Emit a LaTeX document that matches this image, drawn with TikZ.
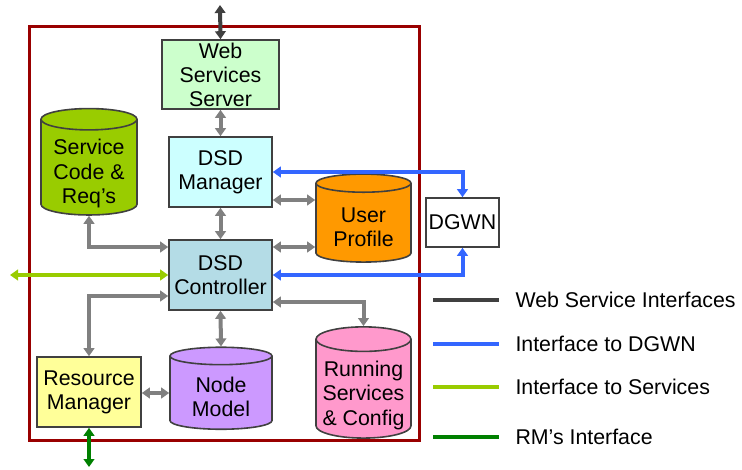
\documentclass[tikz,border=0pt]{standalone}
\usepackage{fontspec}
\setmainfont{Liberation Sans}
\usetikzlibrary{shapes.geometric,arrows.meta}
\definecolor{frameRed}{HTML}{990000}
\definecolor{wssGreen}{HTML}{CCFFCC}
\definecolor{mgrCyan}{HTML}{CCFFFF}
\definecolor{ctlBlue}{HTML}{B4DCE6}
\definecolor{codeGreen}{HTML}{99CC00}
\definecolor{profOrange}{HTML}{FF9900}
\definecolor{modelViolet}{HTML}{CC99FF}
\definecolor{runPink}{HTML}{FF99CC}
\definecolor{rmYellow}{HTML}{FFFF99}
\definecolor{linkGray}{HTML}{808080}
\definecolor{wsDark}{HTML}{404040}
\definecolor{dgwnBlue}{HTML}{3366FF}
\definecolor{svcLime}{HTML}{99CC00}
\definecolor{rmGreen}{HTML}{008000}

% text of a data store, set a little below the centre
\newcommand{\drumtext}[1]{\raisebox{-5pt}[\height][\depth]{\begin{tabular}{@{}c@{}}#1\end{tabular}}}

\tikzset{every picture/.style={line width=0.75pt}}
\tikzset{
  box/.style={draw=black!75, line width=1.2pt, align=center, inner sep=0pt,
    font=\fontsize{16}{18}\selectfont},
  drum/.style={box, cylinder, shape border rotate=90, aspect=0.3,
    font=\fontsize{16}{18.4}\selectfont},
  link/.style={line width=3pt, {Triangle[length=6pt,width=8pt]}-{Triangle[length=6pt,width=8pt]}},
  graylink/.style={link, draw=linkGray},
  wslink/.style={link, draw=wsDark},
  bluelink/.style={link, draw=dgwnBlue},
  limelink/.style={link, draw=svcLime},
  rmlink/.style={link, draw=rmGreen},
  legline/.style={line width=3pt},
  legtext/.style={anchor=west, inner sep=0pt, font=\fontsize{16}{18}\selectfont}
}

\begin{document}
\begin{tikzpicture}[x=0.75pt,y=0.75pt,yscale=-1,xscale=1]
\useasboundingbox (0,0) rectangle (742,469);

% outer frame
\draw [frameRed, line width=2.25pt] (29,26) rectangle (419,440);

% boxes
\node (wss) [box, fill=wssGreen, minimum width=87.75pt, minimum height=51.75pt] at (220.5,74.5) {Web\\Services\\Server};
\node (mgr) [box, fill=mgrCyan, minimum width=77.25pt, minimum height=52.5pt] at (220.5,172) {DSD\\Manager};
\node (ctl) [box, fill=ctlBlue, minimum width=77.25pt, minimum height=52.5pt] at (220.5,275) {DSD\\Controller};
\node (rm) [box, fill=rmYellow, minimum width=78pt, minimum height=52.5pt] at (89,392) {Resource\\Manager};
\node (dgwn) [box, fill=white, minimum width=54.75pt, minimum height=36.75pt] at (462.5,222.5) {DGWN};

% data stores
\node (code) [drum, fill=codeGreen, minimum width=72pt, minimum height=66.75pt] at (89,167.5) {\drumtext{Service\\Code \&\\Req’s}};
\node (prof) [drum, fill=profOrange, minimum width=71.25pt, minimum height=66pt] at (363.5,223) {\drumtext{User\\Profile}};
\node (model) [drum, fill=modelViolet, minimum width=76.5pt, minimum height=61.5pt] at (221,393) {\drumtext{Node\\Model}};
\node (run) [drum, fill=runPink, minimum width=71.25pt, minimum height=66pt] at (363.5,389) {\drumtext{Running\\Services\\\& Config}};

% free ends
\coordinate (wsEnd) at (220,5);
\coordinate (svcEnd) at (10,275);
\coordinate (rmEnd) at (89,467);

% web service interfaces
\draw [wslink] (wsEnd) -- (wss.north);
\draw [graylink] (wss.south) -- (mgr.north);
\draw [graylink] (mgr.south) -- (ctl.north);
\draw [graylink] (mgr.east |- 0,200) -- (prof.west |- 0,200);
\draw [graylink] (ctl.east |- 0,247) -- (prof.west |- 0,247);
\draw [graylink] (code.south) |- (ctl.west |- 0,247);
\draw [graylink] (ctl.west |- 0,296) -| (rm.north);
\draw [graylink] (ctl.south) -- (model.north);
\draw [graylink] (rm.east |- 0,393) -- (model.west |- 0,393);
\draw [graylink] (ctl.east |- 0,302) -| (run.north);

% DGWN interfaces
\draw [bluelink] (mgr.east) -| (dgwn.north);
\draw [bluelink] (ctl.east) -| (dgwn.south);

% services and RM
\draw [limelink] (svcEnd) -- (ctl.west);
\draw [rmlink] (rm.south) -- (rmEnd);

% legend
\draw [legline, wsDark] (433,300) -- (499,300);
\draw [legline, dgwnBlue] (433,344) -- (499,344);
\draw [legline, svcLime] (433,387) -- (499,387);
\draw [legline, rmGreen] (433,437) -- (499,437);
\node (legWs) [legtext] at (515,300) {Web Service Interfaces};
\node (legDgwn) [legtext] at (515,344) {Interface to DGWN};
\node (legSvc) [legtext] at (515,387) {Interface to Services};
\node (legRm) [legtext] at (515,437) {RM’s Interface};

\end{tikzpicture}
\end{document}
